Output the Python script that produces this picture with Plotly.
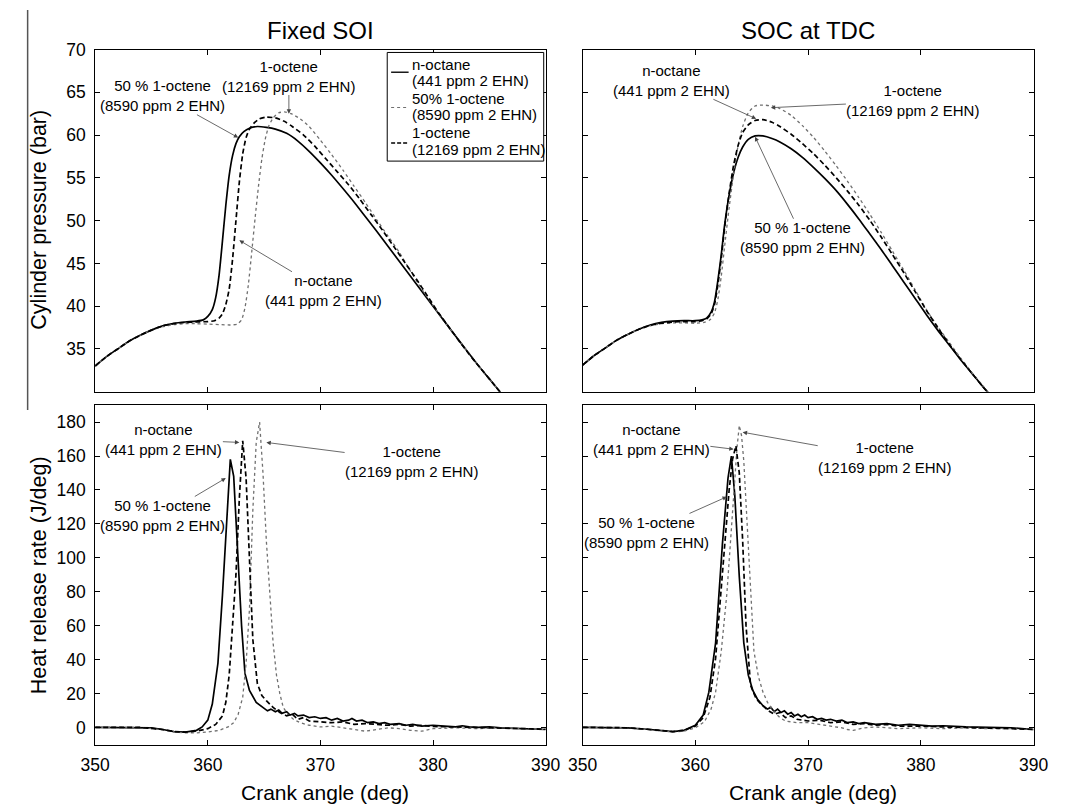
import plotly.graph_objects as go

# ---------------- data ----------------
# Fixed SOI - cylinder pressure (bar)
fs_p_noct_ca = [350, 351, 352, 353, 354, 355, 356, 357, 358, 359, 359.6, 360.0, 360.4, 360.7, 361.0, 361.3, 361.6, 361.9,
                362.2, 362.5, 362.8, 363.2, 363.7, 364.4, 365.2, 366.0, 367.0, 368.0, 369.0, 370.0, 371.0, 372.0, 373.0,
                374.0, 375.0, 376.0, 377.0, 378.0, 379.0, 380.0, 381.0, 382.0, 383.0, 384.0, 385.0, 386.0, 387.0, 388.0]
fs_p_noct = [33.0, 34.1, 35.0, 35.9, 36.6, 37.2, 37.7, 38.0, 38.15, 38.25, 38.4, 38.8, 39.6, 41.0, 43.6, 47.6, 51.8, 55.3,
             57.6, 59.0, 59.8, 60.4, 60.8, 61.0, 60.9, 60.7, 60.2, 59.3, 58.1, 56.75, 55.3, 53.75, 52.15,
             50.45, 48.75, 47.0, 45.25, 43.5, 41.75, 40.0, 38.25, 36.5, 34.8, 33.1, 31.5, 29.9, 28.4, 26.9]

fs_p_oct_ca = [350, 351, 352, 353, 354, 355, 356, 357, 358, 359, 360, 360.6, 361.0, 361.3, 361.6, 361.9, 362.2, 362.5, 362.8,
               363.1, 363.4, 363.7, 364.1, 364.6, 365.2, 366.0, 366.8, 367.5, 368.5, 369.5, 370.5, 371.5, 372.5, 373.5,
               374.5, 375.5, 376.5, 377.5, 378.5, 379.5, 380.5, 381.5, 382.5, 383.5, 384.5, 385.5, 386.5, 388.0]
fs_p_oct = [33.0, 34.1, 35.0, 35.9, 36.6, 37.2, 37.7, 37.95, 38.1, 38.15, 38.2, 38.3, 38.6, 39.1, 40.2, 42.0, 45.5, 50.0, 54.5,
            57.8, 59.7, 60.7, 61.4, 61.9, 62.1, 62.0, 61.6, 61.0, 60.0, 58.7, 57.2, 55.7, 54.2, 52.5,
            50.7, 48.9, 47.0, 45.1, 43.2, 41.2, 39.2, 37.4, 35.6, 33.9, 32.3, 30.7, 29.1, 26.8]

fs_p_50_ca = [350, 351, 352, 353, 354, 355, 356, 357, 358, 359, 360, 361, 362, 362.6, 363.0, 363.3, 363.6, 363.9, 364.2,
              364.5, 364.8, 365.1, 365.4, 365.8, 366.3, 366.8, 367.4, 368.2, 369.0, 370.0, 371.0, 372.0, 373.0, 374.0,
              375.0, 376.0, 377.0, 378.0, 379.0, 380.0, 381.0, 382.0, 383.0, 384.0, 385.0, 386.0, 388.0]
fs_p_50 = [33.0, 34.1, 35.0, 35.9, 36.6, 37.2, 37.6, 37.85, 37.95, 37.95, 37.9, 37.85, 37.8, 37.9, 38.4, 39.8, 42.5, 46.3, 50.3,
           54.0, 57.2, 59.5, 61.0, 62.0, 62.6, 62.7, 62.5, 61.9, 61.0, 59.4, 57.7, 55.9, 54.0, 52.1,
           50.1, 48.2, 46.3, 44.1, 42.0, 40.1, 38.2, 36.5, 34.8, 33.1, 31.5, 29.9, 26.9]

# SOC at TDC - cylinder pressure (bar)
soc_p_noct_ca = [350, 351, 352, 353, 354, 355, 356, 357, 358, 359, 360, 360.6, 361.0, 361.4, 361.7, 362.0, 362.3, 362.6,
                 363.0, 363.4, 363.8, 364.2, 364.7, 365.3, 366.0, 366.8, 367.5, 368.5, 369.5, 370.5, 371.5, 372.5,
                 373.5, 374.5, 375.5, 376.5, 377.5, 378.5, 379.5, 380.5, 381.5, 382.5, 383.5, 384.5, 385.5, 386.5, 388.0]
soc_p_noct = [33.1, 34.2, 35.1, 36.0, 36.7, 37.3, 37.8, 38.1, 38.25, 38.3, 38.3, 38.4, 38.6, 39.3, 40.5, 43.0, 46.0, 49.5,
              53.0, 55.6, 57.4, 58.6, 59.5, 59.9, 59.9, 59.6, 59.2, 58.4, 57.4, 56.2, 54.9, 53.5,
              51.9, 50.2, 48.4, 46.6, 44.7, 42.8, 40.9, 39.0, 37.2, 35.5, 33.8, 32.2, 30.6, 29.1, 26.8]

soc_p_oct_ca = [350, 351, 352, 353, 354, 355, 356, 357, 358, 359, 360, 360.6, 361.0, 361.4, 361.7, 362.0, 362.3, 362.6,
                363.0, 363.4, 363.8, 364.2, 364.7, 365.3, 366.0, 366.8, 367.5, 368.5, 369.5, 370.5, 371.5, 372.5,
                373.5, 374.5, 375.5, 376.5, 377.5, 378.5, 379.5, 380.5, 381.5, 382.5, 383.5, 384.5, 385.5, 386.5, 388.0]
soc_p_oct = [33.1, 34.2, 35.1, 36.0, 36.7, 37.3, 37.75, 38.0, 38.15, 38.2, 38.2, 38.3, 38.5, 39.1, 40.2, 42.5, 45.6, 49.2,
             53.2, 56.5, 58.8, 60.3, 61.2, 61.7, 61.8, 61.5, 61.0, 60.1, 59.0, 57.8, 56.45, 55.0,
             53.45, 51.8, 50.0, 48.05, 46.0, 43.9, 41.7, 39.5, 37.5, 35.6, 33.85, 32.2, 30.6, 29.1, 26.8]

soc_p_50_ca = [350, 351, 352, 353, 354, 355, 356, 357, 358, 359, 360, 360.8, 361.3, 361.7, 362.0, 362.3, 362.6, 363.0,
               363.4, 363.8, 364.2, 364.7, 365.3, 366.0, 366.8, 367.5, 368.5, 369.5, 370.5, 371.5, 372.5, 373.5,
               374.5, 375.5, 376.5, 377.5, 378.5, 379.5, 380.5, 381.5, 382.5, 383.5, 384.5, 385.5, 386.5, 388.0]
soc_p_50 = [33.1, 34.2, 35.1, 36.0, 36.7, 37.3, 37.7, 37.95, 38.05, 38.05, 38.0, 38.1, 38.4, 39.2, 40.8, 43.5, 47.0, 51.5,
            55.5, 58.8, 61.0, 62.6, 63.4, 63.5, 63.4, 63.1, 62.3, 61.1, 59.7, 58.1, 56.4, 54.6,
            52.7, 50.7, 48.6, 46.4, 44.2, 41.9, 39.6, 37.6, 35.8, 34.0, 32.3, 30.7, 29.1, 26.8]

# Fixed SOI - heat release rate (J/deg)
fs_h_noct_ca = [350, 352, 354, 355, 356, 357, 358, 359, 359.5, 360.0, 360.4, 360.9, 361.3, 361.7, 362.0, 362.3, 362.6,
                363.0, 363.3, 363.7, 364.3, 364.9, 365.3, 365.6, 366.0, 366.3, 366.6, 367.0, 367.3, 367.7, 368.0, 368.5,
                369.0, 369.5, 370.0, 370.5, 371.0, 371.5, 372.0, 372.5, 372.8, 373.2, 373.7, 374.2, 374.7, 375.2, 375.7,
                376.2, 377.0, 377.6, 378.2, 379.0, 380.0, 381.0, 382.0, 382.6, 383.2, 384.0, 385.0, 386.0, 387.0, 388.0,
                389.0, 390.0]
fs_h_noct = [0.2, 0.1, 0.3, 0.0, -1.0, -2.2, -2.5, -1.5, 0.5, 4.5, 14, 38, 78, 126, 158, 148, 110,
             60, 32, 22, 15, 12, 10, 11, 9.5, 10.5, 8.5, 9.5, 7.5, 8.5, 7, 7.5,
             6, 6.5, 5.5, 6, 4.5, 5.5, 4, 4.5, 5.5, 4, 4.5, 3, 3.5, 2.5, 3,
             2, 2.5, 1.5, 2, 1, 1.5, 1, 0.5, 1.2, 0.5, 0.3, 0.5, 0, -0.3, -0.5,
             -0.8, -1.0]

fs_h_oct_ca = [350, 352, 354, 356, 357, 358, 359, 360, 360.7, 361.3, 361.6, 361.9, 362.2, 362.5, 362.8, 363.1, 363.4,
               363.7, 364.0, 364.4, 364.8, 365.2, 365.8, 366.4, 367.0, 367.5, 368.0, 368.5, 369, 370, 371, 372, 373,
               374, 375, 376, 377, 378, 379, 380, 382, 384, 386, 388, 390]
fs_h_oct = [0.2, 0.1, 0.2, -1.0, -2.2, -2.5, -2.0, -0.5, 2.0, 7, 15, 31, 58, 90, 135, 169, 147,
            99, 52, 26, 19, 16, 12, 9, 7, 8, 5, 6, 4, 3.5, 3, 3.5, 2,
            2.5, 2, 1.5, 2, 1, 1.5, 0.8, 0.5, 0.3, 0, -0.5, -0.8]

fs_h_50_ca = [350, 352, 354, 356, 357, 358, 359, 360, 361, 361.8, 362.3, 362.7, 363.1, 363.4, 363.7, 364.0, 364.3, 364.6,
              364.9, 365.2, 365.5, 365.8, 366.1, 366.4, 366.7, 367.1, 367.6, 368.2, 369, 370, 371, 372, 373, 374, 375,
              376, 377, 378, 379, 380, 382, 384, 386, 388, 390]
fs_h_50 = [0.2, 0.1, 0.2, -1.2, -2.4, -3.0, -3.0, -2.5, -1.5, 0.5, 3, 8, 18, 38, 70, 128, 168, 180,
           150, 110, 78, 50, 31, 20, 12, 8, 5, 3, 1.5, 0.5, 1, 0, -1, -2, -1,
           0, -0.5, -1.5, -2, -0.5, 0, -0.5, 0, -0.5, -1]

# SOC at TDC - heat release rate (J/deg)
soc_h_noct_ca = [350, 352, 354, 356, 357, 358, 359, 360, 360.7, 361.2, 361.8, 362.4, 362.9, 363.2, 363.5, 363.9, 364.3,
                 364.7, 365.1, 365.5, 366.0, 366.4, 366.7, 367.0, 367.3, 367.6, 367.9, 368.2, 368.5, 368.8, 369.1,
                 369.4, 369.7, 370.0, 370.4, 370.8, 371.2, 371.6, 372.0, 372.5, 373.0, 373.5, 374.0, 374.5, 375, 376,
                 377, 378, 379, 380, 381, 382, 384, 386, 388, 390]
soc_h_noct = [0.3, 0.2, 0.0, -1.0, -1.8, -2.2, -1.5, 1.5, 7.5, 21, 50, 108, 147, 160, 137, 89, 50,
              31, 22, 17, 13, 11, 12, 9.5, 11, 9, 10, 8, 9, 7, 8,
              6.5, 7.5, 6, 6.5, 5, 5.5, 4.5, 5, 4, 4.5, 3, 3.5, 2.5, 3, 2,
              2.5, 1.5, 2, 1.5, 1, 1.2, 0.5, 0.3, 0, -1]

soc_h_oct_ca = [350, 352, 354, 356, 357, 358, 359, 360, 360.7, 361.3, 361.8, 362.2, 362.6, 363.0, 363.3, 363.6, 363.9,
                364.2, 364.5, 364.9, 365.4, 365.9, 366.5, 367, 367.5, 368, 368.5, 369, 370, 371, 372, 373, 374, 375,
                376, 377, 378, 380, 382, 384, 386, 388, 390]
soc_h_oct = [0.3, 0.2, 0.0, -1.0, -1.8, -2.2, -1.5, 1.0, 6, 18, 41, 75, 108, 140, 158, 166, 150,
             110, 60, 25, 17, 13.5, 10, 8, 9, 6, 7, 5, 4, 4.5, 3, 3.5, 2, 2.5,
             1.5, 2, 1, 1, 0.5, 0.3, 0, -0.5, -1]

soc_h_50_ca = [350, 352, 354, 356, 357, 358, 359, 360, 360.8, 361.4, 361.8, 362.3, 362.8, 363.1, 363.4, 363.7, 363.9,
               364.1, 364.3, 364.6, 364.8, 365.0, 365.2, 365.6, 366.0, 366.4, 366.9, 367.5, 368, 369, 370, 371, 372,
               373, 373.5, 374, 375, 376, 377, 378, 380, 382, 384, 386, 388, 390]
soc_h_50 = [0.3, 0.2, 0.0, -1.2, -2.0, -2.5, -2.0, 0.0, 3.5, 11, 21, 45, 79, 108, 137, 165, 178,
            172, 157, 120, 89, 65, 45, 30, 21, 15, 10, 6, 4, 3, 3, 2, 1,
            0, -1, -1.5, 0, 0.5, 0, -0.5, 0, -0.5, 0, -0.5, -0.5, -1]

legend_lines = [("n-octane", "(441 ppm 2 EHN)"),
                ("50% 1-octene", "(8590 ppm 2 EHN)"),
                ("1-octene", "(12169 ppm 2 EHN)")]
panel_titles = ["Fixed SOI", "SOC at TDC"]
p_ticks = [35, 40, 45, 50, 55, 60, 65, 70]
h_ticks = [0, 20, 40, 60, 80, 100, 120, 140, 160, 180]
x_ticks = [350, 360, 370, 380, 390]

# ---------------- figure ----------------
FONT = "Arial, Liberation Sans, sans-serif"
W, H = 1067, 808

def px_x(p):
    return p / W

def px_y(p):
    return 1 - p / H

styles = [
    dict(color="black", width=1.7, dash="solid"),
    dict(color="#707070", width=1.3, dash="dot"),
    dict(color="black", width=1.7, dash="5px,3px"),
]

fig = go.Figure()

panels = [
    ("x", "y", [(fs_p_noct_ca, fs_p_noct), (fs_p_50_ca, fs_p_50), (fs_p_oct_ca, fs_p_oct)], "spline"),
    ("x2", "y2", [(soc_p_noct_ca, soc_p_noct), (soc_p_50_ca, soc_p_50), (soc_p_oct_ca, soc_p_oct)], "spline"),
    ("x3", "y3", [(fs_h_noct_ca, fs_h_noct), (fs_h_50_ca, fs_h_50), (fs_h_oct_ca, fs_h_oct)], "linear"),
    ("x4", "y4", [(soc_h_noct_ca, soc_h_noct), (soc_h_50_ca, soc_h_50), (soc_h_oct_ca, soc_h_oct)], "linear"),
]

for pi, (xa, ya, series, shape) in enumerate(panels):
    for si, (xs, ys) in enumerate(series):
        line = dict(styles[si])
        line["shape"] = shape
        if shape == "spline":
            line["smoothing"] = 0.6
        fig.add_trace(go.Scatter(
            x=xs, y=ys, xaxis=xa, yaxis=ya, mode="lines", line=line,
            name=" ".join(legend_lines[si]), showlegend=False, hoverinfo="skip"))

xdom_l = [px_x(82.5), px_x(546)]
xdom_r = [px_x(584), px_x(1048)]
ydom_t = [px_y(386.5), px_y(40)]
ydom_b = [px_y(744), px_y(400)]

axis_common = dict(showline=True, linecolor="black", linewidth=1, mirror="ticks", ticks="inside",
                   ticklen=5, tickcolor="black", tickwidth=1, showgrid=False, zeroline=False,
                   tickfont=dict(family=FONT, size=17.5, color="black"))

fig.update_layout(
    width=W, height=H, autosize=False,
    margin=dict(l=0, r=0, t=0, b=0),
    paper_bgcolor="white", plot_bgcolor="white",
    font=dict(family=FONT, color="black"),
    showlegend=False,
    xaxis=dict(axis_common, domain=xdom_l, anchor="y", range=[350, 390], tickvals=x_ticks, showticklabels=False),
    xaxis2=dict(axis_common, domain=xdom_r, anchor="y2", range=[350, 390], tickvals=x_ticks, showticklabels=False),
    xaxis3=dict(axis_common, domain=xdom_l, anchor="y3", range=[350, 390], tickvals=x_ticks, ticklabelstandoff=4),
    xaxis4=dict(axis_common, domain=xdom_r, anchor="y4", range=[350, 390], tickvals=x_ticks, ticklabelstandoff=4),
    yaxis=dict(axis_common, domain=ydom_t, anchor="x", range=[30, 70], tickvals=p_ticks, ticklabelstandoff=5),
    yaxis2=dict(axis_common, domain=ydom_t, anchor="x2", range=[30, 70], tickvals=p_ticks, showticklabels=False),
    yaxis3=dict(axis_common, domain=ydom_b, anchor="x3", range=[-10, 190], tickvals=h_ticks, ticklabelstandoff=5),
    yaxis4=dict(axis_common, domain=ydom_b, anchor="x4", range=[-10, 190], tickvals=h_ticks, showticklabels=False),
)

annotations = []
# panel titles
for txt, cx in zip(panel_titles, [314, 816]):
    annotations.append(dict(text=txt, x=px_x(cx), y=px_y(21), xref="paper", yref="paper",
                            showarrow=False, font=dict(family=FONT, size=24), xanchor="center", yanchor="middle"))
# axis titles
annotations.append(dict(text="Cylinder pressure (bar)", x=px_x(25), y=px_y(212), xref="paper", yref="paper",
                        showarrow=False, textangle=-90, font=dict(family=FONT, size=21.5),
                        xanchor="center", yanchor="middle"))
annotations.append(dict(text="Heat release rate (J/deg)", x=px_x(25), y=px_y(572), xref="paper", yref="paper",
                        showarrow=False, textangle=-90, font=dict(family=FONT, size=21.5),
                        xanchor="center", yanchor="middle"))
for cx in [319, 821]:
    annotations.append(dict(text="Crank angle (deg)", x=px_x(cx), y=px_y(792), xref="paper", yref="paper",
                            showarrow=False, font=dict(family=FONT, size=21), xanchor="center", yanchor="middle"))

# legend (drawn by hand to match the boxed two-line entries)
leg_text_y = [54.7, 71.3, 89.7, 106.3, 124.0, 141.3]
flat = [t for pair in legend_lines for t in pair]
for txt, ty in zip(flat, leg_text_y):
    annotations.append(dict(text=txt, x=px_x(406), y=px_y(ty), xref="paper", yref="paper", showarrow=False,
                            xanchor="left", yanchor="middle", font=dict(family=FONT, size=15, color="black")))

lab_50 = "50 % 1-octene<br>(8590 ppm 2 EHN)"
lab_oct = "1-octene<br>(12169 ppm 2 EHN)"
lab_noct = "n-octane<br>(441 ppm 2 EHN)"

callouts = [
    # (xref, yref, text, text_x, text_y, tip_x, tip_y)
    ("x", "y", lab_50, 356.0, 64.6, 362.7, 59.7),
    ("x", "y", lab_oct, 367.2, 66.9, 367.2, 62.5),
    ("x", "y", lab_noct, 370.3, 41.8, 362.8, 47.7),
    ("x2", "y2", lab_noct, 357.9, 66.4, 365.4, 61.9),
    ("x2", "y2", lab_oct, 379.3, 64.0, 366.7, 63.2),
    ("x2", "y2", lab_50, 369.5, 48.0, 365.3, 59.8),
    ("x3", "y3", lab_noct, 356.1, 170, 362.8, 168),
    ("x3", "y3", lab_oct, 378.1, 157, 365.2, 168),
    ("x3", "y3", lab_50, 356.0, 125, 361.6, 147),
    ("x4", "y4", lab_noct, 356.1, 170, 363.4, 164),
    ("x4", "y4", lab_oct, 376.8, 159, 364.2, 174),
    ("x4", "y4", lab_50, 355.7, 115, 362.8, 136),
]
for xr, yr, txt, tx, ty, hx, hy in callouts:
    annotations.append(dict(text=txt, x=hx, y=hy, ax=tx, ay=ty, xref=xr, yref=yr, axref=xr, ayref=yr,
                            showarrow=True, arrowhead=2, arrowsize=1.1, arrowwidth=0.8, arrowcolor="#444",
                            font=dict(family=FONT, size=15, color="black"), align="center",
                            bgcolor="rgba(0,0,0,0)", borderpad=0))

fig.update_layout(annotations=annotations)

# legend box and line samples
fig.add_shape(type="rect", xref="paper", yref="paper", x0=px_x(383), x1=px_x(544), y0=px_y(153), y1=px_y(43),
              line=dict(color="black", width=1), fillcolor="white", layer="above")
for (ly, st) in zip([63, 98.7, 134.7], styles):
    d = st["dash"] if st["dash"] != "5px,3px" else "4px,2px"
    fig.add_shape(type="line", xref="paper", yref="paper", x0=px_x(387), x1=px_x(405), y0=px_y(ly), y1=px_y(ly),
                  line=dict(color=st["color"], width=st["width"] * 0.8, dash=d), layer="above")

# stray frame line at left edge of the top half of the source image
fig.add_shape(type="line", xref="paper", yref="paper", x0=px_x(13), x1=px_x(13), y0=px_y(405), y1=1.0,
              line=dict(color="#555", width=1.5))

fig.write_html("out.html")
